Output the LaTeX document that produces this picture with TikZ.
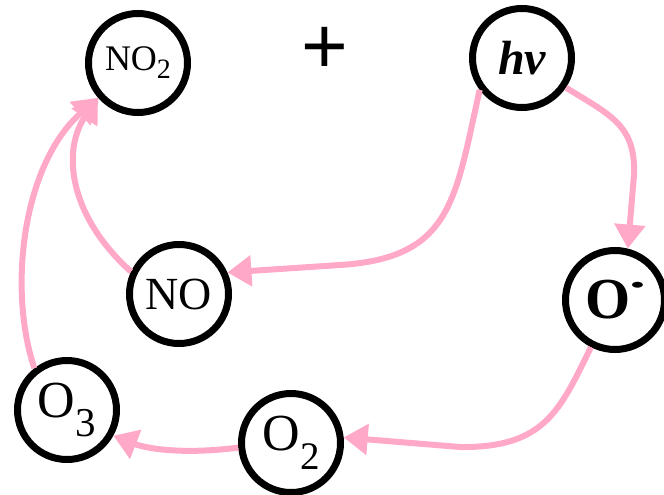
\documentclass[tikz,border=0pt]{standalone}
\usepackage{fontspec}
\setmainfont{Liberation Serif}
\newfontfamily\plusfont{Liberation Sans}
\usetikzlibrary{arrows.meta}
\definecolor{pinkline}{RGB}{255,168,200}
\tikzset{
  species/.style={circle,draw=black,line width=7pt,minimum size=99pt,inner sep=0pt,fill=white},
  react/.style={draw=pinkline,line width=6pt,-{Triangle[length=24pt,width=30pt]}},
}
\begin{document}
\begin{tikzpicture}[x=1pt,y=-1pt]
\useasboundingbox (0,0) rectangle (664,495);
\node[species] (no2) at (138,63) {\fontsize{36}{36}\selectfont NO\raisebox{-0.22em}{\fontsize{28}{28}\selectfont 2}};
\node[species] (hv) at (522,58) {\fontsize{48}{48}\selectfont\bfseries\itshape hν};
\node[species] (no) at (179,294) {\fontsize{46}{46}\selectfont NO};
\node[species] (o3) at (67,410) {\fontsize{52}{52}\selectfont O\raisebox{-0.36em}{\fontsize{41}{41}\selectfont 3}};
\node[species] (o2) at (291,443) {\fontsize{52}{52}\selectfont O\raisebox{-0.36em}{\fontsize{39}{39}\selectfont 2}};
\node[species] (orad) at (615,300) {\fontsize{58}{58}\selectfont\bfseries O\raisebox{0.45em}{\scalebox{1.8}[1]{\fontsize{22}{22}\selectfont\textbullet}}};
\node[font=\plusfont\fontsize{80}{80}\selectfont,inner sep=0pt] (plus) at (325,50) {+};
\draw[react] (hv.217) .. controls (455,200) and (452,258) .. (340,265) -- (no.24);
\draw[react] (hv.326) .. controls (610,115) and (636,125) .. (634,175) -- (orad.76);
\draw[react] (orad.243) .. controls (560,410) and (545,448) .. (460,447) -- (o2.6);
\draw[react] (o2.185) .. controls (180,455) and (145,448) .. (o3.331);
\draw[react] (o3.128) .. controls (8,290) and (22,165) .. (no2.221);
\draw[react] (no.155) .. controls (68,215) and (62,150) .. (no2.221);
\end{tikzpicture}
\end{document}
